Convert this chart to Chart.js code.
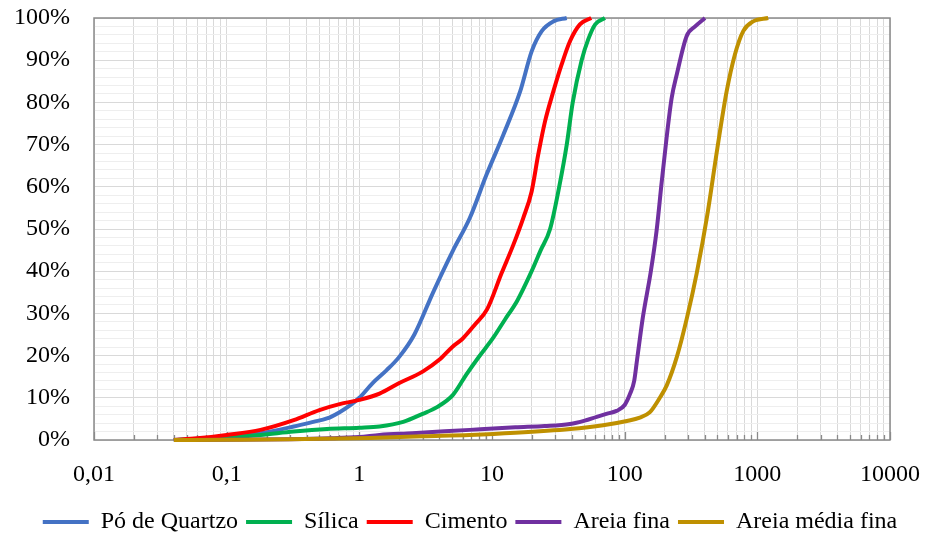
<!DOCTYPE html>
<html><head><meta charset="utf-8">
<script src="https://cdn.jsdelivr.net/npm/chart.js@4/dist/chart.umd.min.js"></script>
<style>html,body{margin:0;padding:0;background:#fff}</style>
</head><body>
<canvas id="c" width="926" height="536"></canvas>
<script>
// ---- data (particle size µm, cumulative passing %) ----
const seriesNames = ['Pó de Quartzo', 'Sílica', 'Cimento', 'Areia fina', 'Areia média fina'];
const seriesColors = ['#4472C4', '#00B050', '#FF0000', '#7030A0', '#BF9000'];

const quartzoX = [0.04, 0.06, 0.1, 0.18, 0.32, 0.45, 0.57, 0.71, 0.85, 1.0, 1.26, 1.6, 2.0, 2.6, 3.6, 5.1, 6.8, 9.1, 12.2, 16.3, 19.9, 23.7, 29, 36.6];
const quartzoY = [0, 0.3, 0.7, 1.6, 3.2, 4.3, 5.1, 6.6, 8.2, 10, 13.5, 16.5, 19.7, 25, 35, 45, 52.6, 62.9, 72.4, 82.6, 92.1, 96.9, 99.2, 100];

const silicaX = [0.04, 0.06, 0.1, 0.18, 0.32, 0.57, 1.0, 1.42, 2.14, 3.0, 3.85, 5.08, 6.4, 8, 10.1, 12.5, 15.5, 19.9, 23.3, 27.4, 32.1, 36.6, 40.6, 47.4, 53.2, 60, 71];
const silicaY = [0, 0.2, 0.6, 1.2, 2.0, 2.6, 2.9, 3.2, 4.3, 6.2, 7.8, 10.7, 15.5, 19.8, 24, 28.5, 33, 40, 45, 50, 60, 70, 80, 90, 95, 98.5, 100];

const cimentoX = [0.04, 0.06, 0.1, 0.18, 0.32, 0.5, 0.71, 1.0, 1.42, 2.0, 3.0, 4.0, 5.0, 6.0, 7.5, 9.2, 11.8, 14.5, 17.2, 19.9, 22.3, 25.1, 29, 33.5, 38.7, 46, 56];
const cimentoY = [0, 0.4, 1.2, 2.4, 4.7, 7.1, 8.5, 9.5, 11, 13.5, 16.2, 19, 22, 24, 27.5, 31, 39.5, 46.3, 52.6, 58.9, 67.6, 75.5, 82.6, 89, 94.5, 98.5, 100];

const areiaFinaX = [0.04, 0.1, 0.3, 0.6, 1.0, 1.42, 2.5, 6.8, 15, 25, 38.7, 50, 61.6, 75, 87, 100, 110, 118, 124, 137, 157.5, 174, 190, 207, 226, 247, 293, 340, 403];
const areiaFinaY = [0, 0.05, 0.2, 0.4, 0.7, 1.2, 1.6, 2.4, 3.0, 3.3, 3.8, 4.6, 5.5, 6.3, 6.9, 8.3, 11, 14, 19, 29, 40, 49.6, 61, 71.6, 81, 86.6, 95.7, 98, 100];

const areiaMediaX = [0.04, 0.1, 0.3, 1.2, 3, 6.8, 15, 38.7, 68.8, 104, 130, 155, 184, 208, 248, 295, 349, 420, 500, 587, 677, 783, 931, 1208];
const areiaMediaY = [0, 0.05, 0.15, 0.5, 0.9, 1.2, 1.7, 2.6, 3.5, 4.5, 5.3, 6.6, 10, 13, 19.8, 29, 39.5, 53.4, 69.2, 82.6, 91.3, 96.9, 99.2, 100];

const xTickLabels = ['0,01', '0,1', '1', '10', '100', '1000', '10000'];
const yTickLabels = ['0%', '10%', '20%', '30%', '40%', '50%', '60%', '70%', '80%', '90%', '100%'];

// ---- build ----
const seriesX = [quartzoX, silicaX, cimentoX, areiaFinaX, areiaMediaX];
const seriesY = [quartzoY, silicaY, cimentoY, areiaFinaY, areiaMediaY];

const datasets = seriesNames.map((name, i) => ({
  label: name,
  data: seriesX[i].map((x, j) => ({x: x, y: seriesY[i][j]})),
  borderColor: seriesColors[i],
  backgroundColor: seriesColors[i],
  borderWidth: 4,
  pointRadius: 0,
  showLine: true,
  cubicInterpolationMode: 'monotone',
  clip: false,
  order: seriesNames.length - i
}));

const xMajor = [0.01, 0.1, 1, 10, 100, 1000, 10000];
const xTickValues = [];
for (let k = -2; k <= 3; k++) {
  for (let m = 1; m <= 9; m++) xTickValues.push(Number((m * Math.pow(10, k)).toPrecision(3)));
}
xTickValues.push(10000);
const isMajor = v => xMajor.some(m => Math.abs(m - v) / m < 1e-6);

Chart.defaults.font.family = "'Liberation Serif', 'Times New Roman', serif";
Chart.defaults.color = '#000';

const framePlugin = {
  id: 'frame',
  beforeDatasetsDraw(chart) {
    const {ctx, chartArea: a, scales} = chart;
    ctx.save();
    ctx.strokeStyle = '#8A8A8A';
    ctx.lineWidth = 1.5;
    ctx.strokeRect(a.left, a.top, a.right - a.left, a.bottom - a.top);
    ctx.lineWidth = 1.3;
    ctx.beginPath();
    xTickValues.forEach(v => {
      const px = Math.round(scales.x.getPixelForValue(v)) + 0.5;
      const len = isMajor(v) ? 8 : 5;
      ctx.moveTo(px, a.bottom);
      ctx.lineTo(px, a.bottom - len);
    });
    ctx.stroke();
    ctx.restore();
  }
};

new Chart(document.getElementById('c'), {
  type: 'scatter',
  data: {datasets},
  options: {
    responsive: false,
    animation: false,
    layout: {padding: {left: 14, right: 0, top: 18, bottom: 0}},
    plugins: {
      tooltip: {enabled: false},
      legend: {
        position: 'bottom',
        maxHeight: 34,
        labels: {
          usePointStyle: true,
          pointStyle: 'line',
          pointStyleWidth: 46,
          padding: 8,
          font: {size: 24},
          color: '#000',
          sort: (a, b) => a.datasetIndex - b.datasetIndex
        }
      }
    },
    scales: {
      x: {
        type: 'logarithmic',
        min: 0.01,
        max: 10000,
        afterBuildTicks: s => { s.ticks = xTickValues.map(v => ({value: v})); },
        afterFit: s => { s.height = 62; s.paddingLeft = 0; s.paddingRight = 36; },
        border: {display: false},
        grid: {color: '#D9D9D9', lineWidth: 1, drawTicks: true, tickLength: 4, tickColor: 'rgba(0,0,0,0)'},
        ticks: {
          autoSkip: false, maxRotation: 0, minRotation: 0, padding: 16,
          font: {size: 24}, color: '#000',
          callback: v => { const idx = xMajor.findIndex(m => Math.abs(m - v) / m < 1e-6); return idx >= 0 ? xTickLabels[idx] : ''; }
        }
      },
      y: {
        min: 0,
        max: 100,
        afterFit: s => { s.width = 80; s.paddingTop = 0; s.paddingBottom = 0; },
        border: {display: false},
        grid: {
          drawTicks: false,
          color: c => (c.tick && Math.round(c.tick.value) % 10 === 0) ? '#D9D9D9' : '#EEEEEE',
          lineWidth: 1
        },
        ticks: {
          stepSize: 2, autoSkip: false, padding: 24,
          font: {size: 24}, color: '#000',
          callback: v => (Math.round(v) % 10 === 0) ? yTickLabels[Math.round(v) / 10] : ''
        }
      }
    }
  },
  plugins: [framePlugin]
});
</script>
</body></html>
